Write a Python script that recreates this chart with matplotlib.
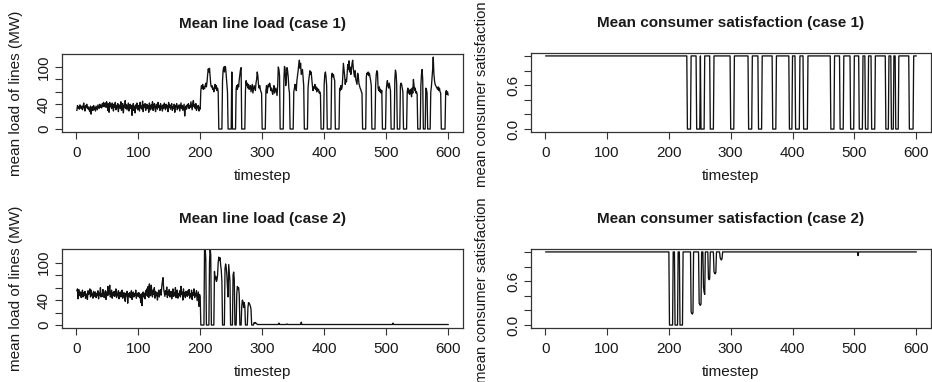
import matplotlib
matplotlib.use("Agg")
import matplotlib.pyplot as plt
import numpy as np

plt.rcParams['font.family'] = ['Liberation Sans', 'DejaVu Sans']

# ---------------- data ----------------
timesteps = list(range(1, 601))

# Case 1: mean line load (MW), one value per timestep
load1 = (
    [30, 38, 34, 36, 32, 39, 35, 33, 37, 31, 36, 42, 34, 29, 38, 35, 40, 33, 36, 31,
     34, 28, 37, 24, 33, 36, 30, 38, 32, 35, 29, 37, 34, 31, 39, 36, 33, 40, 35, 38,
     34, 41, 37, 43, 36, 40, 42, 35, 44, 38, 30, 41, 27, 43, 36, 39, 33, 42, 37, 29,
     40, 35, 43, 31, 38, 34, 41, 28, 39, 36, 33, 44, 30, 37, 41, 26, 38, 35, 46, 33,
     39, 31, 37, 42, 29, 36, 40, 33, 38, 22, 35, 41, 30, 37, 26, 39, 34, 42, 31, 36,
     38, 29, 43, 34, 37, 32, 45, 28, 39, 35, 41, 30, 36, 40, 33, 38, 27, 42, 35, 31,
     39, 34, 44, 30, 37, 41, 33, 28, 40, 36, 32, 43, 35, 38, 30, 41, 34, 37, 29, 39,
     33, 42, 36, 31, 40, 34, 38, 28, 43, 35, 39, 32, 37, 41, 30, 36, 33, 40, 27, 38,
     35, 41, 31, 37, 34, 39, 29, 36, 42, 33, 38, 30, 35, 40, 21, 34, 37, 32, 39, 36,
     41, 33, 38, 35, 44, 37, 31, 42, 46, 36, 39, 33, 41, 30, 37, 34, 38, 29, 35, 32]
    + [62, 70, 66, 72, 64, 68, 65, 70, 74, 68, 76, 88, 97, 92, 98, 84, 72, 68, 70, 64,
       66, 60, 68, 72, 65, 70, 62, 66, 60]                       # 201-229
    + [0] * 6                                                     # 230-235
    + [78, 95, 100, 92, 101, 99, 86, 72, 60]                      # 236-244
    + [0] * 6                                                     # 245-250
    + [92]                                                        # 251
    + [0] * 6                                                     # 252-257
    + [66, 70, 64, 72, 68, 80, 88, 96, 99]                        # 258-266
    + [0] * 6                                                     # 267-272
    + [62, 78, 70, 74, 66, 72, 64, 68, 70, 60, 66, 72, 58, 64, 70, 66, 62, 74, 80, 92,
       86, 72, 66, 70, 64, 60, 58]                                # 273-299
    + [0] * 6                                                     # 300-305
    + [62, 70, 58, 66, 72, 68, 74, 70, 62, 66, 60, 56, 64, 70, 58, 62, 66, 60, 54, 70,
       100, 96, 86]                                               # 306-328
    + [0] * 6                                                     # 329-334
    + [80, 101, 96, 70, 82, 99, 94, 84, 66, 58]                   # 335-344
    + [0] * 6                                                     # 345-350
    + [60, 66, 72, 68, 62, 78, 86, 94, 104, 111, 98, 106, 88, 92, 96, 82, 70]  # 351-367
    + [0] * 6                                                     # 368-373
    + [66, 78, 86, 94, 88, 92, 80, 70, 62, 68, 66, 72, 64, 68, 60, 66, 62, 64, 58, 60,
       56]                                                        # 374-394
    + [0] * 5                                                     # 395-399
    + [72, 88, 92, 84, 70]                                        # 400-404
    + [0] * 7                                                     # 405-411
    + [86, 90, 84, 88, 82, 78]                                    # 412-417
    + [0] * 7                                                     # 418-424
    + [66, 62, 70, 64, 68, 84, 106, 96, 86, 72, 80, 76, 88, 104, 96, 110, 92, 100, 88, 96,
       106, 111, 98, 90, 84, 94, 80, 76, 72, 90, 86, 74, 70, 66, 64, 60, 58]  # 425-461
    + [0] * 6                                                     # 462-467
    + [84, 90, 88, 92, 86, 90, 84, 78, 70]                        # 468-476
    + [0] * 6                                                     # 477-482
    + [70, 88, 94, 92, 66, 62, 68, 60, 64, 58, 62]                # 483-493
    + [0] * 6                                                     # 494-499
    + [60, 72, 78, 70, 66, 74, 68, 62]                            # 500-507
    + [0] * 6                                                     # 508-513
    + [80, 95, 90, 72]                                            # 514-517
    + [0] * 5                                                     # 518-522
    + [70, 74, 72, 66, 60]                                        # 523-527
    + [0] * 6                                                     # 528-533
    + [60, 66, 58, 62, 56, 64, 60, 52, 66, 58, 80, 70, 62, 66, 58, 60, 56]  # 534-550
    + [0] * 5                                                     # 551-555
    + [70, 88, 96, 80]                                            # 556-559
    + [0] * 4                                                     # 560-563
    + [66, 64, 58]                                                # 564-566
    + [0] * 5                                                     # 567-571
    + [60, 68, 82, 96, 116, 90, 78, 72, 70, 68, 66, 64, 68, 62, 66, 60, 58]  # 572-588
    + [0] * 7                                                     # 589-595
    + [58, 62, 56, 60, 55]                                        # 596-600
)

# Case 1: mean consumer satisfaction, run lengths (value, number of timesteps)
sat1_values = [1, 0, 1, 0, 1, 0, 1, 0, 1, 0, 1, 0, 1, 0, 1, 0, 1, 0, 1, 0, 1, 0,
               1, 0, 1, 0, 1, 0, 1, 0, 1, 0, 1, 0, 1, 0, 1, 0, 1, 0, 1, 0, 1]
sat1_counts = [229, 6, 9, 6, 1, 6, 9, 6, 27, 6, 23, 6, 10, 6, 17, 6, 21, 5, 5, 7, 6, 7,
               37, 6, 9, 6, 11, 6, 8, 6, 4, 5, 5, 6, 17, 5, 4, 4, 3, 5, 17, 7, 5]

# Case 2: mean line load (MW)
load2_head = (
    [55, 58, 42, 57, 50, 47, 53, 44, 49, 56, 45, 52, 48, 54, 43, 50, 46, 41, 55, 49,
     52, 58, 45, 56, 47, 51, 43, 54, 49, 46, 53, 44, 50, 47, 55, 42, 51, 48, 60, 45,
     50, 46, 57, 52, 44, 49, 55, 41, 53, 47, 62, 48, 51, 64, 45, 50, 56, 43, 52, 47,
     54, 46, 49, 58, 44, 51, 47, 55, 42, 50, 53, 45, 48, 56, 43, 49, 52, 46, 38, 51,
     47, 54, 35, 50, 46, 52, 44, 49, 55, 41, 48, 53, 45, 50, 47, 56, 43, 49, 51, 46,
     52, 44, 49, 36, 50, 31, 47, 53, 45, 51, 42, 55, 48, 58, 46, 62, 44, 66, 50, 47,
     64, 52, 45, 56, 49, 60, 43, 54, 47, 52, 40, 49, 56, 45, 51, 57, 48, 62, 70, 76,
     58, 52, 46, 55, 49, 61, 44, 53, 48, 57, 45, 50, 54, 42, 49, 58, 46, 52, 47, 60,
     44, 51, 56, 43, 50, 48, 55, 45, 62, 49, 53, 40, 58, 47, 52, 44, 54, 49, 46, 55,
     48, 57, 43, 50, 46, 56, 41, 52, 48, 58, 44, 51, 47, 55, 39, 46, 53, 30, 49, 44]
    + [0] * 6                                                     # 201-206
    + [125, 125, 105]                                             # 207-209
    + [0] * 5                                                     # 210-214
    + [100, 125, 112]                                             # 215-217
    + [0] * 5                                                     # 218-222
    + [86, 74, 78, 70, 72, 80, 100, 109, 104, 108, 96, 88, 70]    # 223-235
    + [0] * 4                                                     # 236-239
    + [90, 98, 92, 80, 60, 45, 97, 84, 70]                        # 240-248
    + [0] * 4                                                     # 249-252
    + [80, 85, 72]                                                # 253-255
    + [0] * 3                                                     # 256-258
    + [50, 62, 58, 60, 48]                                        # 259-263
    + [0] * 3                                                     # 264-266
    + [30, 40, 38, 28, 36, 30]                                    # 267-272
    + [0] * 4                                                     # 273-276
    + [28, 36, 35, 33, 30, 25]                                    # 277-282
    + [0] * 4                                                     # 283-286
    + [4, 3, 4, 3, 2, 1]                                          # 287-292
)
# quiet tail of case 2 load (breakpoints of a flat line with small bumps)
load2_tail_t = [293, 326, 327, 328, 339, 340, 341, 362, 363, 364, 510, 511, 512, 600]
load2_tail_v = [0.8, 0.8, 3, 0.8, 0.8, 1.8, 0.8, 0.8, 4.5, 0.8, 0.8, 3, 0.8, 0.8]

# Case 2: mean consumer satisfaction (breakpoints)
sat2_t = [1, 200, 201, 206, 207, 209, 210, 214, 215, 217, 218, 222, 223, 235,
          236, 237, 238, 239, 240, 248, 249, 250, 251, 252, 253, 255, 256, 257, 258,
          259, 263, 264, 265, 266, 267, 272, 273, 274, 275, 276, 277, 282,
          283, 284, 285, 286, 287, 505, 506, 507, 600]
sat2_v = [1, 1, 0, 0, 1, 1, 0, 0, 1, 1, 0, 0, 1, 1,
          0.18, 0.16, 0.15, 0.17, 1, 1, 0.30, 0.28, 0.27, 0.29, 1, 1, 0.52, 0.45, 0.42,
          1, 1, 0.64, 0.62, 0.63, 1, 1, 0.73, 0.71, 0.70, 0.72, 1, 1,
          0.92, 0.90, 0.89, 0.91, 1, 1, 0.95, 1, 1]

titles = ["Mean line load (case 1)", "Mean consumer satisfaction (case 1)",
          "Mean line load (case 2)", "Mean consumer satisfaction (case 2)"]
ylabels = ["mean load of lines (MW)", "mean consumer satisfaction"]
xlabel = "timestep"
xticks = [0, 100, 200, 300, 400, 500, 600]
load_ticks = [0, 20, 40, 60, 80, 100]
load_ticklabels = ["0", "", "40", "", "", "100"]
sat_ticks = [0.0, 0.2, 0.4, 0.6, 0.8, 1.0]
sat_ticklabels = ["0.0", "", "", "0.6", "", ""]

assert len(load1) == 600, len(load1)
assert sum(sat1_counts) == 600
assert len(load2_head) == 292, len(load2_head)
assert len(sat2_t) == len(sat2_v)

sat1 = np.repeat(sat1_values, sat1_counts)
load2_t = list(range(1, 293)) + load2_tail_t
load2_v = load2_head + load2_tail_v

# ---------------- figure ----------------
W, H = 932, 382
fig = plt.figure(figsize=(W / 100, H / 100), dpi=100)

def px_axes(x0, y0, x1, y1):
    return fig.add_axes([x0 / W, 1 - y1 / H, (x1 - x0) / W, (y1 - y0) / H])

line_kw = dict(color="#111111", lw=0.95)
txt = "#1a1a1a"
FS = 11

def style(ax, yticks, yticklabels, ylim):
    ax.set_xlim(-23, 624)
    ax.set_ylim(*ylim)
    ax.set_xticks(xticks)
    ax.set_xticklabels([str(v) for v in xticks])
    ax.set_yticks(yticks)
    ax.set_yticklabels(yticklabels)
    for s in ax.spines.values():
        s.set_color("#333333")
        s.set_linewidth(0.9)
    ax.tick_params(direction="out", length=5, width=0.8, color="#333333",
                   labelsize=FS, labelcolor=txt)
    ax.tick_params(axis="x", pad=5)
    ax.tick_params(axis="y", pad=3, labelrotation=90)
    for lb in ax.get_yticklabels():
        lb.set_va("center")

panels = [
    (62, 54, 463, 132, timesteps, load1, load_ticks, load_ticklabels, (-4.8, 121), 0),
    (531, 53, 931, 132, timesteps, sat1, sat_ticks, sat_ticklabels, (-0.04, 1.04), 1),
    (62, 249, 463, 328, load2_t, load2_v, load_ticks, load_ticklabels, (-4.8, 122), 2),
    (531, 249, 931, 328, sat2_t, sat2_v, sat_ticks, sat_ticklabels, (-0.04, 1.04), 3),
]

for x0, y0, x1, y1, xs, ys, yt, ytl, yl, i in panels:
    ax = px_axes(x0, y0, x1, y1)
    ax.plot(xs, ys, **line_kw)
    style(ax, yt, ytl, yl)
    cx = (x0 + x1) / 2 / W
    cy = (y0 + y1) / 2
    fig.text(cx, 1 - (y0 - 30) / H, titles[i], ha="center", va="center",
             fontsize=11, fontweight="bold", color=txt)
    fig.text(cx, 1 - (y1 + 44) / H, xlabel, ha="center", va="center",
             fontsize=FS, color=txt)
    if x0 < 100:
        fig.text(16 / W, 1 - cy / H, ylabels[0], rotation=90, ha="center",
                 va="center", fontsize=FS, color=txt)
    else:
        fig.text(482 / W, 1 - (cy + 2) / H, ylabels[1], rotation=90, ha="center",
                 va="center", fontsize=10.7, color=txt)

fig.savefig("out.png", dpi=100)
